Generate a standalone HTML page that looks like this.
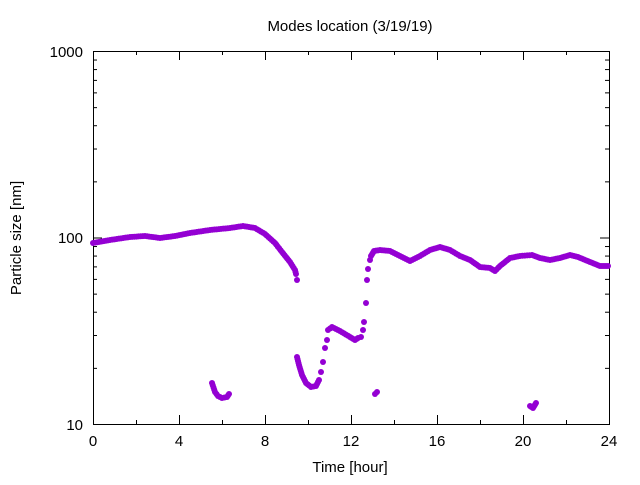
<!DOCTYPE html>
<html><head><meta charset="utf-8"><style>
body{margin:0;background:#fff}
svg text{font-family:"Liberation Sans","DejaVu Sans",sans-serif;font-size:15px;fill:#000}
</style></head><body>
<svg id="s" width="640" height="480" xmlns="http://www.w3.org/2000/svg">
<rect width="640" height="480" fill="#fff"/>
<text x="350" y="31" text-anchor="middle">Modes location (3/19/19)</text>
<g id="ticks" stroke="#000" stroke-width="1"></g>
<rect x="93.5" y="51.5" width="516" height="373" fill="none" stroke="#000"/>
<g text-anchor="end">
<text x="83" y="57">1000</text><text x="83" y="243">100</text><text x="83" y="430">10</text>
</g>
<g text-anchor="middle">
<text x="93" y="446">0</text><text x="179" y="446">4</text><text x="265" y="446">8</text><text x="351" y="446">12</text><text x="437" y="446">16</text><text x="523" y="446">20</text><text x="609" y="446">24</text>
<text x="350" y="472">Time [hour]</text>
<text transform="translate(21,238) rotate(-90)">Particle size [nm]</text>
</g>
<g id="pts" fill="#9400d3"></g>
</svg>
<script>
var ns="http://www.w3.org/2000/svg",t=document.getElementById("ticks"),p=document.getElementById("pts");
function ln(a,b,c,d){var l=document.createElementNS(ns,"line");l.setAttribute("x1",a);l.setAttribute("y1",b);l.setAttribute("x2",c);l.setAttribute("y2",d);t.appendChild(l);}
for(var i=0;i<=24;i+=2){var x=93.5+i*21.5;var L=(i%4==0)?9:4;ln(x,424,x,424-L);ln(x,51,x,51+L);}
for(var d=0;d<2;d++)for(var k=1;k<=10;k++){var y=424.5-186.5*d-186.5*Math.log10(k);var L=(k==1||k==10)?9:4;ln(93,y,93+L,y);ln(609,y,609-L,y);}
function dot(x,y){var c=document.createElementNS(ns,"circle");c.setAttribute("cx",x);c.setAttribute("cy",y);c.setAttribute("r",3);p.appendChild(c);}
function dense(a){for(var i=0;i<a.length-1;i++){var x0=a[i][0],y0=a[i][1],x1=a[i+1][0],y1=a[i+1][1];var n=Math.max(1,Math.round(Math.hypot(x1-x0,y1-y0)/2.2));for(var j=0;j<n;j++){dot(x0+(x1-x0)*j/n,y0+(y1-y0)*j/n);}}var e=a[a.length-1];dot(e[0],e[1]);}
dense([[93,243],[110,240],[130,237],[145,236],[160,238],[175,236],[190,233],[210,230],[230,228],[243,226],[255,228],[265,234],[275,243],[282,252],[290,262],[295,270],[296,274]]);
dot(297,280);
dense([[297,357],[299,365],[302,375],[306,383],[311,387],[316,386],[319,380]]);
[[321,372],[323,362],[325,348],[327,340]].forEach(function(q){dot(q[0],q[1]);});
dense([[328,330],[332,327],[340,331],[350,337],[355,340],[358,338],[361,337]]);
[[363,330],[364,322],[366,303],[367,280],[368,269],[370,260]].forEach(function(q){dot(q[0],q[1]);});
dense([[371,256],[374,251],[380,250],[390,251],[400,256],[410,261],[420,256],[430,250],[440,247],[450,250],[460,256],[470,260],[480,267],[490,268],[495,271],[500,266],[510,258],[520,256],[532,255],[540,258],[550,260],[560,258],[570,255],[578,257],[590,262],[600,266],[608,266]]);
dense([[212,383],[215,392],[218,396],[222,398],[227,397],[229,394]]);
dense([[375,394],[377,392]]);
dense([[530,406],[533,408],[536,403]]);
</script>
</body></html>
